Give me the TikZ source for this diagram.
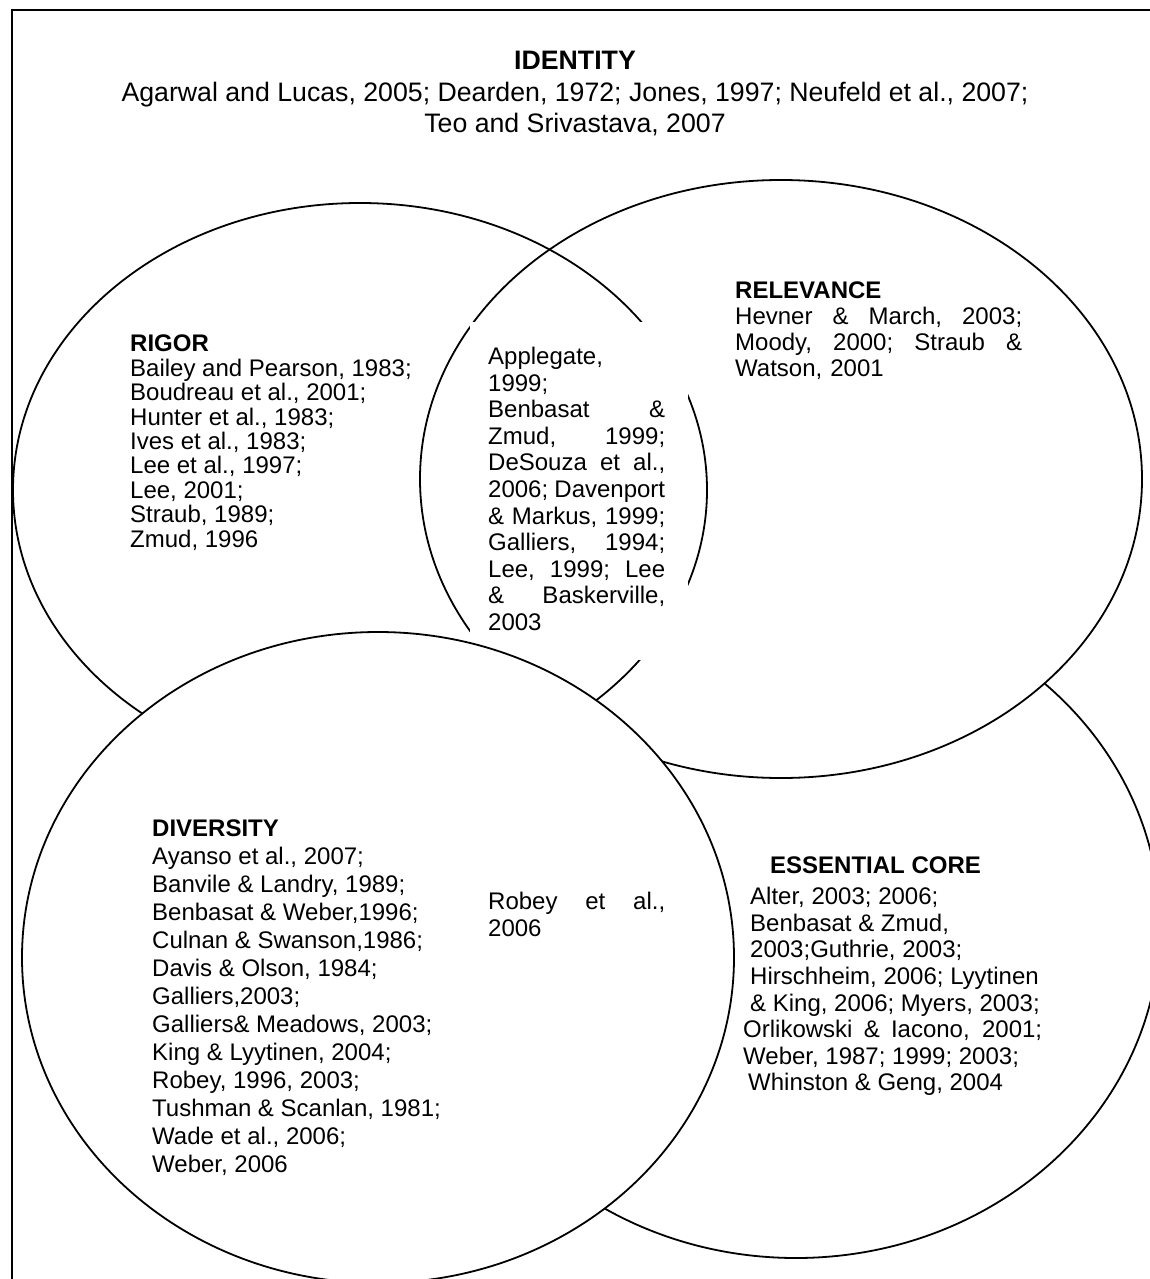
\documentclass[tikz,border=0pt]{standalone}
\usepackage{fontspec}
\setmainfont{Liberation Sans}
\begin{document}
\begin{tikzpicture}[x=1pt,y=-1pt,
  outline/.style={line width=1.8pt},
  body/.style={inner sep=0pt, anchor=north west, align=left, font=\fontsize{24}{26.6}\selectfont},
  head/.style={inner sep=0pt, anchor=north west, font=\fontsize{24}{26.6}\selectfont\bfseries},
  titlestyle/.style={inner sep=0pt, anchor=north, align=center, font=\fontsize{26.7}{31.5}\selectfont}
]
\useasboundingbox (0,0) rectangle (1150,1279);
\begin{scope}
\clip (0,0) rectangle (1150,1279);
\fill[white] (0,0) rectangle (1150,1279);
\draw[line width=1.8pt] (12,10) rectangle (1175,1300);
% essential core (bottom layer)
\filldraw[outline, fill=white] (796,926) ellipse [x radius=364pt, y radius=332pt];
% relevance
\filldraw[outline, fill=white] (781,479) ellipse [x radius=361pt, y radius=299pt];
% rigor (not filled)
\draw[outline] (360,490) ellipse [x radius=347pt, y radius=287pt];
% white box behind the centre text
\fill[white] (470,322) rectangle (688,660);
% diversity (top layer)
\filldraw[outline, fill=white] (378,957.5) ellipse [x radius=356pt, y radius=325.5pt];
\end{scope}

\node[titlestyle] (identity) at (575,51) {\textbf{IDENTITY}\\Agarwal and Lucas, 2005; Dearden, 1972; Jones, 1997; Neufeld et al., 2007;\\Teo and Srivastava, 2007};

\node[body, font=\fontsize{24}{24.4}\selectfont] (rigor) at (130,335) {\textbf{RIGOR}\\Bailey and Pearson, 1983;\\Boudreau et al., 2001;\\Hunter et al., 1983;\\Ives et al., 1983;\\Lee et al., 1997;\\Lee, 2001;\\Straub, 1989;\\Zmud, 1996};

\node[body, text width=287pt, font=\fontsize{24}{25.8}\selectfont] (relevance) at (735,282) {\textbf{RELEVANCE}\\Hevner\hfill\&\hfill March,\hfill 2003;\\Moody,\hfill 2000;\hfill Straub\hfill\&\\Watson, 2001};

\node[body, text width=177pt] (centre) at (488,347) {Applegate,\\1999;\\Benbasat\hfill\&\\Zmud,\hfill 1999;\\DeSouza\hfill et\hfill al.,\\2006;\hfill Davenport\\\&\hfill Markus,\hfill 1999;\\Galliers,\hfill 1994;\\Lee,\hfill 1999;\hfill Lee\\\&\hfill Baskerville,\\2003};

\node[body, text width=177pt] (robey) at (488,892) {Robey\hfill et\hfill al.,\\2006};

\node[body, font=\fontsize{24}{28}\selectfont] (diversity) at (152,820) {\textbf{DIVERSITY}\\Ayanso et al., 2007;\\Banvile \& Landry, 1989;\\Benbasat \& Weber,1996;\\Culnan \& Swanson,1986;\\Davis \& Olson, 1984;\\Galliers,2003;\\Galliers\& Meadows, 2003;\\King \& Lyytinen, 2004;\\Robey, 1996, 2003;\\Tushman \& Scanlan, 1981;\\Wade et al., 2006;\\Weber, 2006};

\node[head] (essential) at (770,857) {ESSENTIAL CORE};

\node[body] (core) at (743,887) {\hspace*{7pt}Alter, 2003; 2006;\\\hspace*{7pt}Benbasat \& Zmud,\\\hspace*{7pt}2003;Guthrie, 2003;\\\hspace*{7pt}Hirschheim, 2006; Lyytinen\\\hspace*{7pt}\& King, 2006; Myers, 2003;\\\makebox[299pt][s]{Orlikowski \& Iacono, 2001;}\\Weber, 1987; 1999; 2003;\\\hspace*{5pt}Whinston \& Geng, 2004};
\end{tikzpicture}
\end{document}
